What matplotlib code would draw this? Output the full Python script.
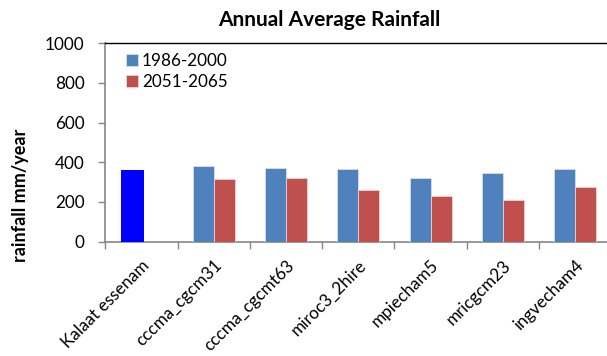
import numpy as np
import matplotlib
matplotlib.use("Agg")
import matplotlib.pyplot as plt
import matplotlib.transforms as mtransforms

plt.rcParams['font.family'] = ['Lato', 'DejaVu Sans']

models = ['Kalaat essenam', 'cccma_cgcm31', 'cccma_cgcmt63', 'miroc3_2hire',
          'mpiecham5', 'mricgcm23', 'ingvecham4']
observed = [361]
baseline = [381, 373, 366, 321, 344, 366]   # 1986-2000
future = [314, 321, 260, 231, 208, 275]     # 2051-2065

fig = plt.figure(figsize=(6.07, 3.56), dpi=100)
ax = fig.add_axes([0.1735, 0.321, 0.8337, 0.558])

x = np.arange(len(models))
w = 0.29
ax.bar(x[0] - 0.12, observed, 0.32, color='#0000FF', zorder=3)
ax.bar(x[1:] - w / 2, baseline, w, color='#4F81BD', edgecolor='#D6E0EE',
       linewidth=0.6, label='1986-2000', zorder=3)
ax.bar(x[1:] + w / 2, future, w, color='#C0504D', edgecolor='#EDD3D2',
       linewidth=0.6, label='2051-2065', zorder=3)

ax.set_xlim(-0.5, 6.44)
ax.set_ylim(0, 1000)
ax.set_yticks(range(0, 1001, 200))

ax.set_xticks(x)
ax.set_xticklabels(models, rotation=45, ha='right', va='top',
                   rotation_mode='anchor')
# nudge the rotated labels a little to the left
shift = mtransforms.ScaledTranslation(-4 / 72, 0, fig.dpi_scale_trans)
for lab in ax.get_xticklabels():
    lab.set_transform(lab.get_transform() + shift)
ax.set_xticks(np.arange(-0.5, 6.6, 1), minor=True)
ax.tick_params(axis='x', which='major', length=0, pad=11, labelsize=12.3)
ax.tick_params(axis='x', which='minor', length=5, color='#868686', width=1)
ax.tick_params(axis='y', length=5, color='#868686', width=1, pad=10,
               labelsize=12.3)

for s in ['left', 'bottom']:
    ax.spines[s].set_color('#868686')
    ax.spines[s].set_linewidth(1.2)
ax.spines['top'].set_color('black')
ax.spines['top'].set_linewidth(1)
ax.spines['right'].set_visible(False)

leg = ax.legend(loc='upper left', bbox_to_anchor=(0.02, 1.0), frameon=False,
                fontsize=12.3, handlelength=0.75, handleheight=0.7,
                handletextpad=0.2, labelspacing=0.3, borderaxespad=0.2)

fig.text(329 / 607, 1 - 20 / 356, 'Annual Average Rainfall', ha='center',
         va='center', fontsize=15, fontweight='bold')
fig.text(21 / 607, 1 - 195 / 356, 'rainfall mm/year', ha='center',
         va='center', rotation=90, fontsize=13, fontweight='bold')

fig.savefig('out.png', dpi=100)
